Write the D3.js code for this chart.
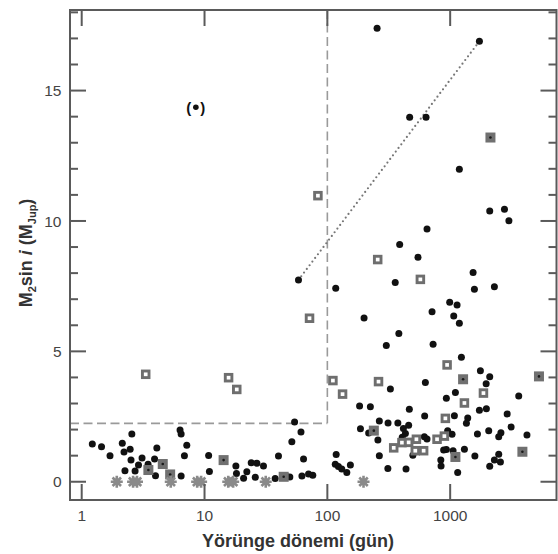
<!DOCTYPE html>
<html>
<head>
<meta charset="utf-8">
<script src="https://cdn.jsdelivr.net/npm/d3@7"></script>
<style>
  html, body { margin: 0; padding: 0; background: #fff; }
  svg { display: block; font-family: "Liberation Sans", Arial, sans-serif; }
</style>
</head>
<body>
<svg id="chart" width="558" height="554"></svg>
<script>
// Orbital period (days) and minimum mass M2 sin i (Jupiter masses)

// Planets found by radial velocity: [period, mass]
const rvPlanets = [
  [1.22,1.45],[1.45,1.34],[1.70,1.00],[2.14,1.48],[2.56,1.83],[2.21,1.14],[2.48,1.25],
  [2.52,0.83],[2.25,0.42],[3.10,0.91],[4.09,1.29],[3.92,0.87],[3.47,0.67],[2.90,0.64],
  [2.72,0.41],[3.99,0.23],[6.32,1.98],[6.45,1.83],[7.17,1.40],[6.86,1.00],[6.45,0.22],
  [10.8,1.01],[10.96,0.39],[18.0,0.60],[18.2,0.32],[20.8,0.13],[22.1,0.38],[24.0,0.73],
  [26.7,0.71],[30.2,0.60],[25.9,0.17],[37.6,0.12],[40.0,0.99],[49.5,0.18],[47.1,0.19],
  [54.1,2.29],[61.0,1.91],[51.4,1.53],[64.0,0.87],[62.1,0.22],[70.3,0.30],[76.1,0.25],
  [58.2,7.74],[117,7.42],[118,1.04],[116,0.67],[123,0.58],[131,0.49],[144,0.35],[154,0.64],
  [183,2.90],[224,2.88],[186,2.03],[217,1.87],[258,1.60],[265,2.33],[312,2.25],[375,2.25],
  [326,3.56],[465,2.78],[628,3.81],[620,2.52],[265,1.00],[311,0.51],[437,0.49],[497,1.02],
  [416,2.04],[432,1.85],[407,1.71],[459,2.17],[616,1.73],[199,6.28],[302,5.22],[357,7.64],
  [388,9.10],[382,5.68],[547,8.61],[648,9.69],[712,6.52],[726,5.27],[254,17.39],[468,13.98],
  [636,13.98],[1730,16.89],[1188,11.98],[2099,10.38],[2767,10.45],[3007,10.01],[1537,8.02],
  [1575,7.38],[2291,7.48],[991,6.88],[1138,6.78],[1069,6.36],[1188,6.08],[1234,4.77],
  [1762,4.26],[2099,4.03],[1963,3.76],[1103,3.42],[931,3.20],[3616,3.29],[1730,2.74],
  [1972,2.80],[2911,2.60],[1082,2.53],[1390,2.44],[1356,2.24],[3134,2.10],[4218,1.79],
  [2060,1.96],[2589,1.88],[2485,1.73],[1667,1.83],[1036,1.82],[954,1.96],[931,1.24],
  [1056,1.19],[1306,1.25],[1589,0.99],[2485,1.05],[2565,0.76],[2291,0.83],[2099,0.59],
  [1151,0.35],[839,0.83],[843,0.60],[885,1.22],[648,1.64]
];

// Uncertain detection shown in parentheses
const uncertainPlanet = [[8.5, 14.36]];

// Open squares
const openSquares = [
  [3.32,4.12],[15.7,3.99],[18.3,3.54],[83.8,10.97],[71.6,6.27],[111,3.88],[133,3.36],
  [261,3.84],[257,8.52],[572,7.76],[944,4.48],[1866,3.40],[1306,3.02],[914,2.43],
  [347,1.30],[405,1.50],[459,1.51],[531,1.63],[520,1.19],[608,1.19],[782,1.63],[897,1.75]
];

// Filled squares
const filledSquares = [
  [3.49,0.45],[4.57,0.68],[5.25,0.28],[14.3,0.83],[44.1,0.19],[239,1.96],
  [1274,3.93],[1103,0.95],[3873,1.15],[5284,4.04],[2128,13.20]
];

// Objects without a measured mass, plotted on the zero line
const asterisks = [
  [1.93,0],[2.62,0],[2.82,0],[5.31,0],[8.71,0],[9.38,0],[15.6,0],[17.1,0],[31.5,0],[197,0]
];

// Guide lines
const massLimit = 2.24;
const periodLimit = 100;
const trendLine = [[58.2, 7.74], [1730, 16.89]];

// Axis ticks
const xTicks = [1, 10, 100, 1000];
const yMajor = [0, 5, 10, 15];
const yMinor = d3.range(0, 19);

const xLabel = "Yörünge dönemi (gün)";

const svg = d3.select("#chart");
const L = 70, T = 10, R = 556.5, B = 500;

const x = d3.scaleLog().domain([0.803, 7340]).range([L, R]);
const y = d3.scaleLinear().domain([-0.70, 18.09]).range([B, T]);

const frameColor = "#5a5a5a";

// Guide lines
const guide = svg.append("g").attr("stroke", "#9a9a9a").attr("stroke-width", 1.6)
  .attr("fill", "none").attr("stroke-dasharray", "9,4.5");
guide.append("line")
  .attr("x1", L).attr("x2", x(periodLimit))
  .attr("y1", y(massLimit)).attr("y2", y(massLimit));
guide.append("line")
  .attr("x1", x(periodLimit)).attr("x2", x(periodLimit))
  .attr("y1", T).attr("y2", y(massLimit));

svg.append("line")
  .attr("x1", x(trendLine[0][0])).attr("y1", y(trendLine[0][1]))
  .attr("x2", x(trendLine[1][0])).attr("y2", y(trendLine[1][1]))
  .attr("stroke", "#777").attr("stroke-width", 2.2)
  .attr("stroke-linecap", "round").attr("stroke-dasharray", "0,4.6");

// Black dots
svg.append("g").selectAll("circle").data(rvPlanets).join("circle")
  .attr("cx", d => x(d[0])).attr("cy", d => y(d[1])).attr("r", 3.5)
  .attr("fill", "#111");

// Parenthesised dot
const up = svg.append("g");
up.selectAll("circle").data(uncertainPlanet).join("circle")
  .attr("cx", d => x(d[0])).attr("cy", d => y(d[1])).attr("r", 2.8).attr("fill", "#111");
up.selectAll("text.lp").data(uncertainPlanet).join("text").attr("class", "lp")
  .attr("x", d => x(d[0]) - 4.5).attr("y", d => y(d[1]))
  .attr("dy", "0.35em").attr("text-anchor", "end")
  .attr("font-size", 15).attr("font-weight", "bold").attr("fill", "#111").text("(");
up.selectAll("text.rp").data(uncertainPlanet).join("text").attr("class", "rp")
  .attr("x", d => x(d[0]) + 4.5).attr("y", d => y(d[1]))
  .attr("dy", "0.35em").attr("text-anchor", "start")
  .attr("font-size", 15).attr("font-weight", "bold").attr("fill", "#111").text(")");

// Open squares
svg.append("g").selectAll("rect").data(openSquares).join("rect")
  .attr("x", d => x(d[0]) - 3.3).attr("y", d => y(d[1]) - 3.3)
  .attr("width", 6.6).attr("height", 6.6)
  .attr("fill", "#fff").attr("stroke", "#6e6e6e").attr("stroke-width", 2.9);

// Filled squares with dark centre
const fs = svg.append("g");
fs.selectAll("rect").data(filledSquares).join("rect")
  .attr("x", d => x(d[0]) - 5).attr("y", d => y(d[1]) - 5)
  .attr("width", 10).attr("height", 10).attr("fill", "#707070");
fs.selectAll("circle").data(filledSquares).join("circle")
  .attr("cx", d => x(d[0])).attr("cy", d => y(d[1])).attr("r", 1.3).attr("fill", "#1a1a1a");

// Asterisks
const starPath = (() => {
  const r = 6, p = [];
  for (let k = 0; k < 4; k++) {
    const a = k * Math.PI / 4;
    p.push(`M${-r * Math.cos(a)},${-r * Math.sin(a)}L${r * Math.cos(a)},${r * Math.sin(a)}`);
  }
  return p.join("");
})();
svg.append("g").selectAll("path").data(asterisks).join("path")
  .attr("transform", d => `translate(${x(d[0])},${y(d[1])})`)
  .attr("d", starPath).attr("stroke", "#8a8a8a").attr("stroke-width", 2.6)
  .attr("fill", "none");

// Frame
svg.append("rect").attr("x", L).attr("y", T).attr("width", R - L).attr("height", B - T)
  .attr("fill", "none").attr("stroke", frameColor).attr("stroke-width", 2);

// Ticks pointing inward on all four sides
const ticks = svg.append("g").attr("stroke", frameColor).attr("stroke-width", 2);
xTicks.forEach(t => {
  ticks.append("line").attr("x1", x(t)).attr("x2", x(t)).attr("y1", B).attr("y2", B - 16);
  ticks.append("line").attr("x1", x(t)).attr("x2", x(t)).attr("y1", T).attr("y2", T + 16);
});
yMinor.forEach(t => {
  const len = yMajor.includes(t) ? 16 : 8;
  ticks.append("line").attr("x1", L).attr("x2", L + len).attr("y1", y(t)).attr("y2", y(t));
  ticks.append("line").attr("x1", R).attr("x2", R - len).attr("y1", y(t)).attr("y2", y(t));
});

// Tick labels
svg.append("g").selectAll("text").data(xTicks).join("text")
  .attr("x", d => x(d)).attr("y", 520.5).attr("text-anchor", "middle")
  .attr("font-size", 15.5).attr("fill", "#444").text(d => d);
svg.append("g").selectAll("text").data(yMajor).join("text")
  .attr("x", 61.5).attr("y", d => y(d)).attr("dy", "0.36em").attr("text-anchor", "end")
  .attr("font-size", 15.5).attr("fill", "#444").text(d => d);

// Axis titles
svg.append("text").attr("x", 298).attr("y", 546.5).attr("text-anchor", "middle")
  .attr("font-size", 18).attr("font-weight", "bold").attr("fill", "#333").text(xLabel);

const yt = svg.append("text")
  .attr("transform", "translate(32,253) rotate(-90)")
  .attr("text-anchor", "middle").attr("font-size", 18).attr("font-weight", "bold")
  .attr("fill", "#333");
yt.append("tspan").text("M");
yt.append("tspan").attr("font-size", 11).attr("dy", 4).text("2");
yt.append("tspan").attr("dy", -4).text("sin ");
yt.append("tspan").attr("font-style", "italic").text("i");
yt.append("tspan").text(" (M");
yt.append("tspan").attr("font-size", 11).attr("dy", 4).text("Jup");
yt.append("tspan").attr("dy", -4).text(")");
</script>
</body>
</html>
